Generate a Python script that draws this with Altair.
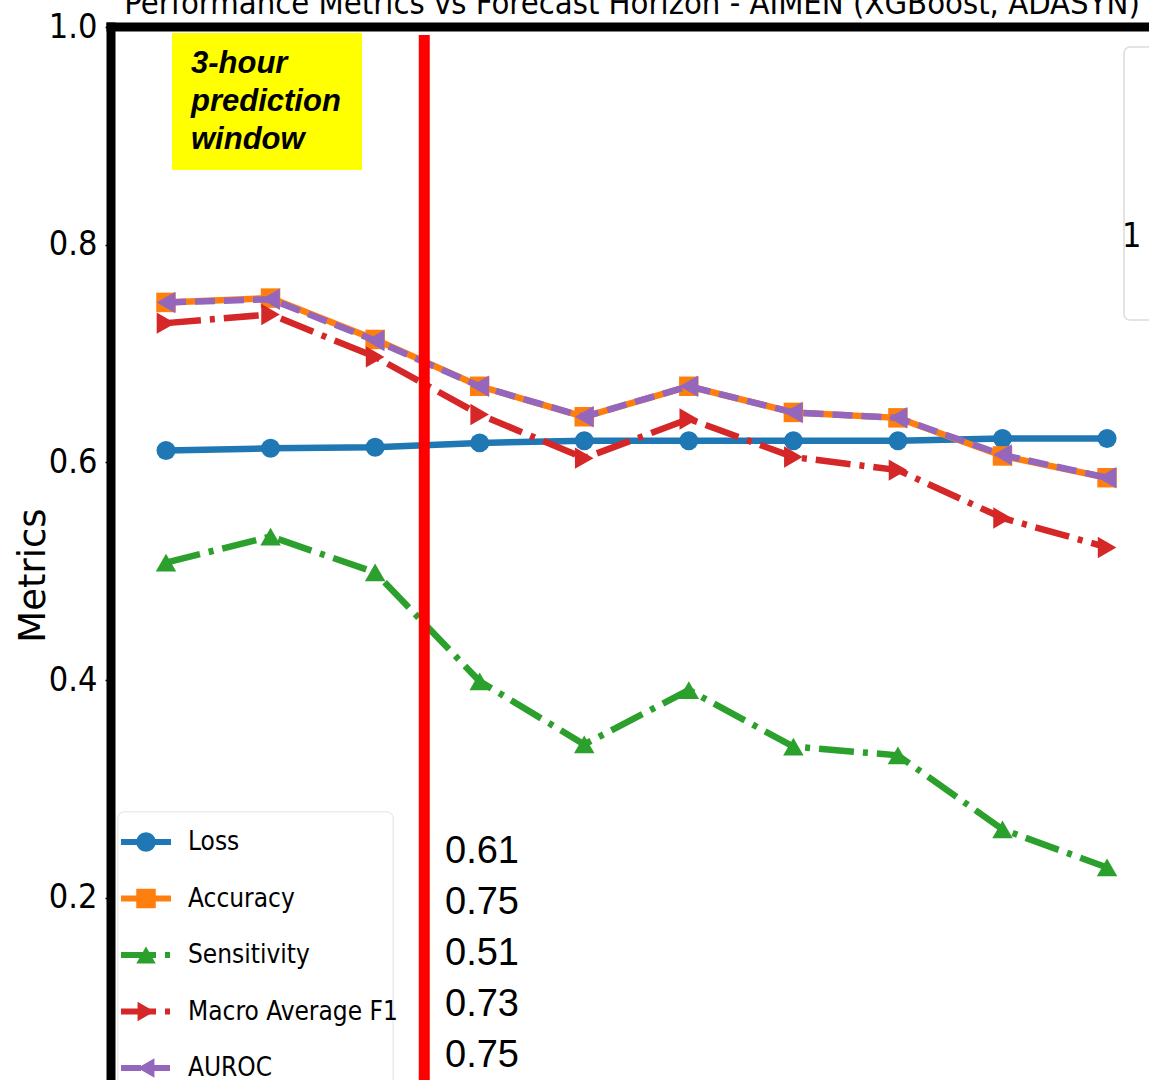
import altair as alt
import pandas as pd

# ---------------- data ----------------
horizons = [1, 2, 3, 4, 5, 6, 7, 8, 9, 10]
metric_names = ["Loss", "Accuracy", "Sensitivity", "Macro Average F1", "AUROC"]
loss = [0.611, 0.613, 0.614, 0.618, 0.620, 0.620, 0.620, 0.620, 0.622, 0.622]
accuracy = [0.747, 0.751, 0.713, 0.670, 0.642, 0.670, 0.646, 0.641, 0.606, 0.586]
sensitivity = [0.508, 0.532, 0.499, 0.399, 0.341, 0.391, 0.339, 0.331, 0.263, 0.228]
macro_f1 = [0.728, 0.736, 0.697, 0.644, 0.604, 0.640, 0.605, 0.593, 0.549, 0.522]
auroc = [0.747, 0.750, 0.712, 0.670, 0.642, 0.670, 0.646, 0.641, 0.607, 0.586]
y_ticks = [0.2, 0.4, 0.6, 0.8, 1.0]
title_text = "Performance Metrics vs Forecast Horizon - AIMEN (XGBoost, ADASYN)"
y_title = "Metrics"
window_label = ["3-hour", "prediction", "window"]
window_marker = [3.47]
side_label = "1"

# ---------------- styles ----------------
series_values = [loss, accuracy, sensitivity, macro_f1, auroc]
colors = ["#1f77b4", "#ff7f0e", "#2ca02c", "#d62728", "#9467bd"]
shapes = ["circle", "square", "triangle-up", "triangle-right", "triangle-left"]
sizes = [360, 380, 420, 460, 460]
dashes = [[1, 0], [1, 0], [35, 9, 5, 9], [35, 9, 5, 9], [20, 9]]
NARROW = "Liberation Sans Narrow, DejaVu Sans Condensed, DejaVu Sans"

W, H = 1038, 1053
x_scale = alt.Scale(domain=[0.474, 10.401], nice=False, zero=False)
y_scale = alt.Scale(domain=[0.0328, 1.0], nice=False, zero=False)
y_axis = alt.Axis(
    values=y_ticks, format=".1f", grid=False, domain=False,
    tickSize=6, tickWidth=1.5, tickColor="black",
    labelFont=NARROW, labelFontSize=34, labelColor="black", labelPadding=8,
    title=y_title, titleFont="DejaVu Sans", titleFontSize=37, titleFontWeight="normal",
    titleColor="black", titleAngle=270, titleX=-78, titleY=548,
    titleAlign="center", titleBaseline="middle",
)
x_enc = alt.X("horizon:Q", scale=x_scale, axis=None)
y_enc = alt.Y("value:Q", scale=y_scale, axis=y_axis)

# ---------------- main series ----------------
main_layers = []
for name, vals, c, shp, sz, d in zip(metric_names, series_values, colors, shapes, sizes, dashes):
    df = pd.DataFrame({"horizon": horizons, "value": vals, "metric": name})
    base = alt.Chart(df)
    line_kw = dict(color=c, strokeWidth=6.5)
    if d != [1, 0]:
        line_kw["strokeDash"] = d
    main_layers.append(base.mark_line(**line_kw).encode(x=x_enc, y=y_enc))
    main_layers.append(
        base.mark_point(shape=shp, filled=True, size=sz, color=c, opacity=1).encode(x=x_enc, y=y_enc)
    )

marker_df = pd.DataFrame({"horizon": window_marker})
red_rule = alt.Chart(marker_df).mark_rule(color="#ff0000", strokeWidth=11).encode(
    x=alt.X("horizon:Q", scale=x_scale, axis=None), y=alt.value(8), y2=alt.value(H)
)
main_layers.append(red_rule)
main = alt.layer(*main_layers)

# ---------------- legend (bottom-left) ----------------
leg_df = pd.DataFrame({"metric": metric_names})
leg_y = alt.Y("metric:N", scale=alt.Scale(type="point", domain=metric_names, range=[815, 1041], padding=0), axis=None)
leg_color = alt.Color("metric:N", scale=alt.Scale(domain=metric_names, range=colors), legend=None)
leg_frame = alt.Chart(leg_df).mark_rect(
    fill="white", stroke="#ececec", strokeWidth=1.2, cornerRadius=6
).encode(x=alt.value(7), x2=alt.value(282), y=alt.value(785), y2=alt.value(H + 30))
leg_line = alt.Chart(leg_df).mark_rule(strokeWidth=6).encode(
    x=alt.value(10), x2=alt.value(60), y=leg_y, color=leg_color,
    strokeDash=alt.StrokeDash("metric:N", scale=alt.Scale(domain=metric_names, range=dashes), legend=None),
)
leg_pts = alt.Chart(leg_df).mark_point(filled=True, size=380, opacity=1).encode(
    x=alt.value(35), y=leg_y, color=leg_color,
    shape=alt.Shape("metric:N", scale=alt.Scale(domain=metric_names, range=shapes), legend=None),
)
leg_text = alt.Chart(leg_df).mark_text(
    align="left", baseline="middle", font=NARROW, fontSize=26, color="black"
).encode(x=alt.value(77), y=leg_y, text="metric:N")
legend = alt.layer(leg_frame, leg_line, leg_pts, leg_text)

# ---------------- annotations ----------------
anno_df = pd.DataFrame({"k": [0]})
yellow_box = alt.Chart(anno_df).mark_rect(color="#ffff00").encode(
    x=alt.value(61), x2=alt.value(251), y=alt.value(6), y2=alt.value(143)
)
window_text = alt.Chart(anno_df).mark_text(
    align="left", baseline="alphabetic", font="Liberation Sans", fontStyle="italic",
    fontWeight="bold", fontSize=31, lineHeight=38, lineBreak="\n", color="black"
).encode(x=alt.value(80), y=alt.value(46), text=alt.value("\n".join(window_label)))

first_values = "\n".join(f"{v[0]:.2f}" for v in series_values)
values_text = alt.Chart(anno_df).mark_text(
    align="left", baseline="alphabetic", font="Liberation Sans", fontSize=38,
    lineHeight=51, lineBreak="\n", color="black"
).encode(x=alt.value(334), y=alt.value(836), text=alt.value(first_values))

side_box = alt.Chart(anno_df).mark_rect(
    fill="white", stroke="#dcdcdc", strokeWidth=1.5, cornerRadius=6
).encode(x=alt.value(1013), x2=alt.value(W + 30), y=alt.value(20), y2=alt.value(293))
side_text = alt.Chart(anno_df).mark_text(
    align="left", baseline="middle", font=NARROW, fontSize=34, color="black"
).encode(x=alt.value(1011), y=alt.value(210), text=alt.value(side_label))

title_mark = alt.Chart(anno_df).mark_text(
    align="center", baseline="alphabetic", font=NARROW, fontSize=32.5, color="black"
).encode(x=alt.value(521), y=alt.value(-13), text=alt.value(title_text))

spine_left = alt.Chart(anno_df).mark_rule(color="black", strokeWidth=9).encode(
    x=alt.value(0), y=alt.value(-4.5), y2=alt.value(H + 10)
)
spine_top = alt.Chart(anno_df).mark_rule(color="black", strokeWidth=9).encode(
    x=alt.value(-4.5), x2=alt.value(W + 10), y=alt.value(0)
)

chart = alt.layer(
    side_box, side_text, yellow_box, window_text, main, legend, values_text,
    title_mark, spine_left, spine_top,
).resolve_scale(y="independent", x="independent", color="independent").properties(
    width=W, height=H, autosize=alt.AutoSizeParams(type="none"),
    padding={"left": 111, "top": 27, "right": 0, "bottom": 0},
).configure_view(stroke="transparent")

chart.save("out.html", embed_options={"renderer": "svg", "actions": False})
